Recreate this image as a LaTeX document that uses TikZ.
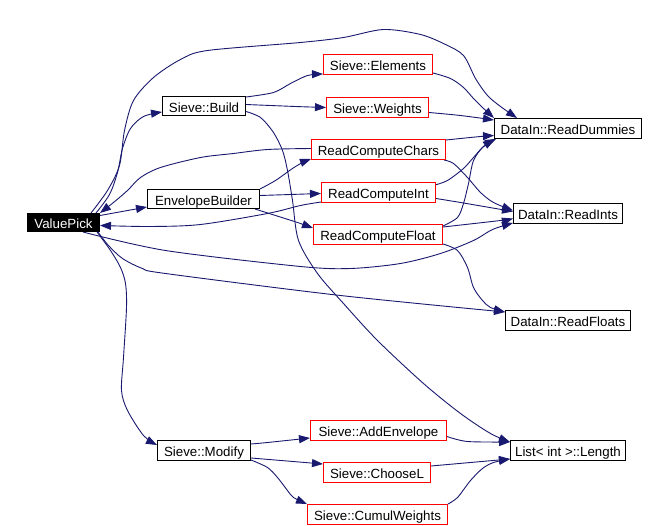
\documentclass[tikz,border=0pt]{standalone}
\usepackage{fontspec}
\setmainfont{Liberation Sans}
\usetikzlibrary{arrows.meta,calc}
\definecolor{edgeblue}{HTML}{191970}
\pgfdeclarelayer{edges}
\pgfsetlayers{edges,main}
\begin{document}
\begin{tikzpicture}[x=1pt,y=-1pt,
  box/.style={draw=black, line width=1pt, minimum height=20pt, inner sep=0pt,
    text height=12.4pt, text depth=0pt, font=\fontsize{13.3}{16}\selectfont, fill=white},
  rbox/.style={box, draw=red},
  edge/.style={draw=edgeblue, line width=0.9pt, -{Triangle[length=11pt,width=8pt]}},
  sm/.style={smooth, tension=0.5}]
\begin{pgfonlayer}{edges}
\useasboundingbox[fill=white] (0,0) rectangle (665,526);
\end{pgfonlayer}
\begin{scope}[shift={(0.5,0.5)}]
% nodes
\node[box, fill=black, text=white, minimum width=72pt, minimum height=18pt] (vp) at (63,222) {ValuePick};
\node[box, minimum width=83pt, minimum height=19pt] (build) at (203.5,105.5) {Sieve::Build};
\node[box, minimum width=112pt, minimum height=19pt] (env) at (203,198.5) {EnvelopeBuilder};
\node[box, minimum width=93pt] (modify) at (203.5,450) {Sieve::Modify};
\node[rbox, minimum width=109pt] (elem) at (377.5,64) {Sieve::Elements};
\node[rbox, minimum width=102pt] (weights) at (377,107) {Sieve::Weights};
\node[rbox, minimum width=134pt] (rcc) at (378,149) {ReadComputeChars};
\node[rbox, minimum width=114pt] (rci) at (378,192) {ReadComputeInt};
\node[rbox, minimum width=129pt] (rcf) at (377.5,234) {ReadComputeFloat};
\node[box, minimum width=147pt] (dummies) at (567.5,128) {DataIn::ReadDummies};
\node[box, minimum width=109pt] (ints) at (567.5,213) {DataIn::ReadInts};
\node[box, minimum width=125pt] (floats) at (567.5,320) {DataIn::ReadFloats};
\node[box, minimum width=115pt] (length) at (567.5,450) {List< int >::Length};
\node[rbox, minimum width=136pt] (addenv) at (378,430) {Sieve::AddEnvelope};
\node[rbox, minimum width=107pt] (choosel) at (376.5,472) {Sieve::ChooseL};
\node[rbox, minimum width=140pt] (cumul) at (377,514) {Sieve::CumulWeights};

\begin{pgfonlayer}{edges}
% edges from ValuePick
\draw[edge] plot[sm] coordinates {($(vp.north east)+(-4,0)$) (109,194) (117,172) (122,148) (130,128) (143,116) ($(build.south west)+(0,-4)$)};
\draw[edge] ($(vp.east)+(0,-7)$) -- ($(env.south west)+(0,-2)$);
\draw[edge] plot[sm] coordinates {($(vp.south east)+(-3,0)$) (110,250) (120,267) (125,283) (126,307) (123,357) (121,390) (127,410) (143,435) ($(modify.north west)+(0,5)$)};
\draw[edge] plot[sm] coordinates {($(vp.north east)+(-9,0)$) (107,190) (119,165) (124,130) (133,100) (153,77) (180,59) (207,50) (300,42) (343,37) (383,29) (420,34) (445,44) (463,55) (475,78) (487,95) (500,106) ($(dummies.north west)+(23,0)$)};
\draw[edge] plot[sm] coordinates {($(vp.south east)+(-17,0)$) (165,250) (300,266) (350,268) (400,263) (440,253) (473,240) (492,229) ($(ints.south west)+(0,-1)$)};
\draw[edge] plot[sm] coordinates {($(vp.south east)+(-2,0)$) (108,245) (122,258) (142,268) (165,273) (340,295) ($(floats.north west)+(0,2)$)};

% back edges into ValuePick
\draw[edge] plot[sm] coordinates {($(rcc.west)+(0,-1)$) (267,149) (233,153) (200,157) (160,167) (140,177) (127,190) (113,202) (vp.north east)};
\draw[edge] plot[sm] coordinates {($(rci.south west)+(0,-1)$) (300,205) (267,213) (200,224) (150,226) ($(vp.east)+(0,3)$)};

% EnvelopeBuilder
\draw[edge] plot[sm] coordinates {(env.north east) (275,180) (292,168) (302,162) ($(rcc.south west)+(0,-1)$)};
\draw[edge] ($(env.east)+(0,-3.5)$) -- ($(rci.west)+(0,1)$);
\draw[edge] plot[sm] coordinates {($(env.south east)+(-5,0)$) (275,215) (297,222) ($(rcf.north west)+(0,4)$)};

% Sieve::Build
\draw[edge] plot[sm] coordinates {($(build.north east)+(0,1)$) (273,92) (290,83) (307,75) ($(elem.south west)+(0,-1)$)};
\draw[edge] plot[sm] coordinates {($(build.east)+(0,-1.5)$) (295,106) (weights.west)};
\draw[edge] plot[sm] coordinates {($(build.east)+(0,5.5)$) (260,117) (273,132) (282,150) (287,170) (292,200) (298,240) (317,273) (343,303) (377,340) (423,383) (460,413) (490,433) ($(length.north west)+(0,2)$)};

% into DataIn::ReadDummies
\draw[edge] plot[sm] coordinates {($(elem.south east)+(0,-2)$) (450,78) (463,87) (473,98) (482,107) (dummies.north west)};
\draw[edge] plot[sm] coordinates {($(weights.east)+(0,5)$) (460,115) ($(dummies.north west)+(0,2)$)};
\draw[edge] plot[sm] coordinates {($(rcc.north east)+(0,1)$) (480,136) ($(dummies.west)+(0,7)$)};
\draw[edge] plot[sm] coordinates {($(rci.north east)+(-1,3)$) (447,180) (463,168) (473,157) (482,147) (dummies.south west)};
\draw[edge] plot[sm] coordinates {($(rcf.north east)+(0,2)$) (457,217) (463,203) (468,183) (473,160) (483,146) ($(dummies.south west)+(2,0)$)};

% into DataIn::ReadInts
\draw[edge] plot[sm] coordinates {($(rcc.south east)+(-2,0)$) (453,163) (467,177) (480,192) (493,202) ($(ints.west)+(0,-3)$)};
\draw[edge] plot[sm] coordinates {($(rci.east)+(0,6)$) (460,202) ($(ints.west)+(0,-2)$)};
\draw[edge] plot[sm] coordinates {($(rcf.north east)+(0,3)$) (500,220) ($(ints.west)+(0,5)$)};

% into DataIn::ReadFloats
\draw[edge] plot[sm] coordinates {($(rcf.south east)+(0,-1)$) (457,250) (467,267) (473,287) (482,300) (490,307) ($(floats.north west)+(0,2)$)};

% Sieve::Modify
\draw[edge] plot[sm] coordinates {($(modify.north east)+(0,4)$) (267,442) ($(addenv.south west)+(0,-3)$)};
\draw[edge] ($(modify.south east)+(0,-3)$) -- ($(choosel.north west)+(0,2)$);
\draw[edge] plot[sm] coordinates {($(modify.south east)+(0,-1)$) (267,467) (277,477) (287,490) (293,497) (cumul.north west)};

% into List<int>::Length
\draw[edge] plot[sm] coordinates {($(addenv.east)+(0,6)$) (467,441) ($(length.north west)+(0,2)$)};
\draw[edge] ($(choosel.north east)+(0,4)$) -- ($(length.south west)+(0,-2)$);
\draw[edge] plot[sm] coordinates {(cumul.north east) (457,497) (470,480) (482,468) (493,462) ($(length.south west)+(0,-2)$)};
\end{pgfonlayer}
\end{scope}
\end{tikzpicture}
\end{document}
